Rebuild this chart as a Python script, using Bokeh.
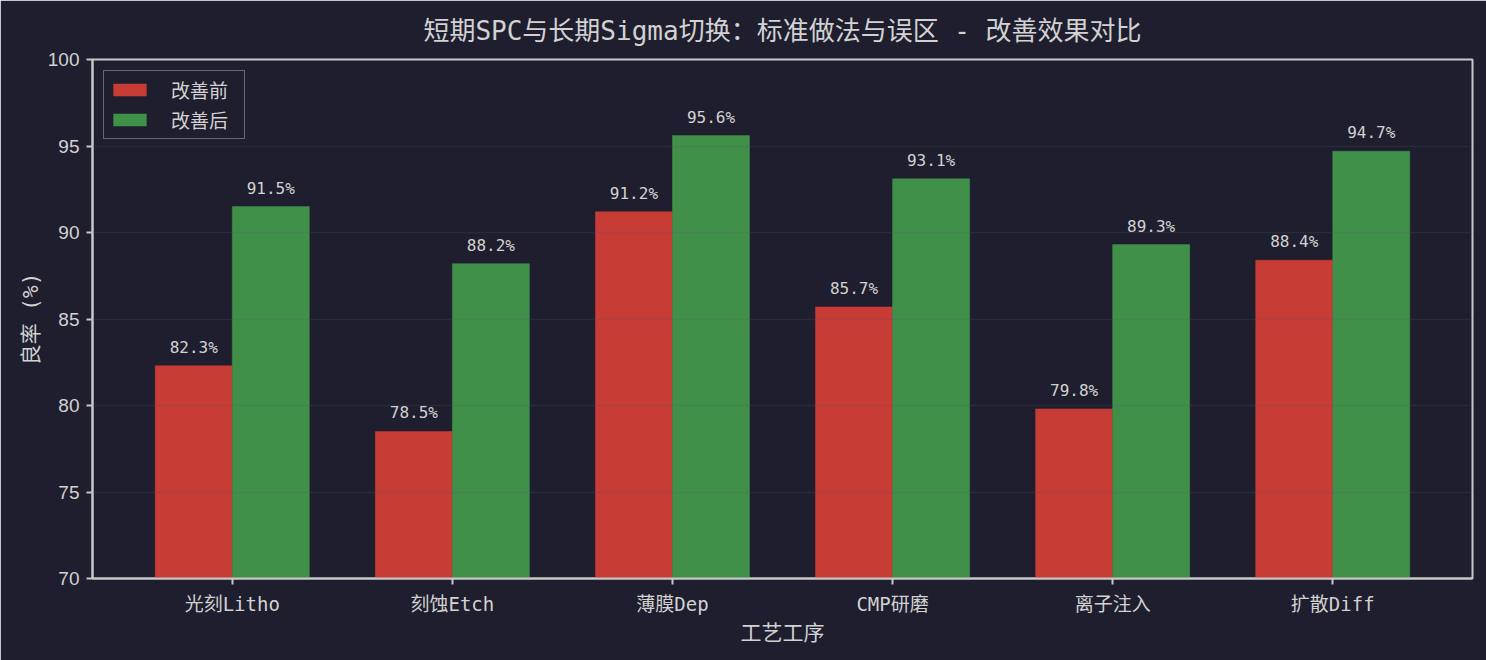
from bokeh.plotting import figure
from bokeh.models import ColumnDataSource, Range1d, FixedTicker, Legend, LegendItem
from bokeh.transform import dodge
from bokeh.embed import file_html
from bokeh.resources import INLINE

categories = ["光刻Litho", "刻蚀Etch", "薄膜Dep", "CMP研磨", "离子注入", "扩散Diff"]
before = [82.3, 78.5, 91.2, 85.7, 79.8, 88.4]
after = [91.5, 88.2, 95.6, 93.1, 89.3, 94.7]
y_ticks = [70, 75, 80, 85, 90, 95, 100]
series_names = ["改善前", "改善后"]
title_text = "短期SPC与长期Sigma切换：标准做法与误区 - 改善效果对比"
x_label = "工艺工序"
y_label = "良率 (%)"

BG = "#1e1e2e"
RED = "#c83c36"
GREEN = "#41904a"
TXT = "#d2d2d2"
SPINE = "#c8c8c8"
MIX = "'DejaVu Sans Mono', 'Noto Sans CJK SC'"

idx = list(range(len(categories)))
src = ColumnDataSource(dict(
    x=idx, before=before, after=after,
    before_lbl=[f"{v}%" for v in before],
    after_lbl=[f"{v}%" for v in after],
))

p = figure(width=1486, height=660, output_backend="svg", toolbar_location=None,
           x_range=Range1d(-0.635, 5.635), y_range=Range1d(70, 100),
           background_fill_color=BG, border_fill_color=BG,
           min_border_left=92, min_border_right=14, min_border_top=59, min_border_bottom=82)

r1 = p.vbar(x=dodge("x", -0.175), top="before", bottom=70, width=0.35, source=src,
            fill_color=RED, line_color=RED, line_width=0.5)
r2 = p.vbar(x=dodge("x", 0.175), top="after", bottom=70, width=0.35, source=src,
            fill_color=GREEN, line_color=GREEN, line_width=0.5)

for col, off in (("before", -0.175), ("after", 0.175)):
    p.text(x=dodge("x", off), y=col, text=col + "_lbl", source=src,
           text_align="center", text_baseline="bottom", y_offset=-9,
           text_color=TXT, text_font_size="16px", text_font={"value": "DejaVu Sans Mono"})

# title
p.title.text = title_text
p.title.align = "center"
p.title.vertical_align = "top"
p.title.text_font = MIX
p.title.text_font_size = "26px"
p.title.text_font_style = "normal"
p.title.text_color = TXT
p.title.standoff = 24

# axes
p.xaxis.ticker = FixedTicker(ticks=idx)
p.xaxis.major_label_overrides = {i: c for i, c in zip(idx, categories)}
p.yaxis.ticker = FixedTicker(ticks=y_ticks)
for ax in (p.xaxis, p.yaxis):
    ax.axis_line_color = SPINE
    ax.axis_line_width = 2
    ax.major_tick_line_color = SPINE
    ax.major_tick_line_width = 2
    ax.major_tick_out = 6
    ax.major_tick_in = 0
    ax.minor_tick_line_color = None
    ax.major_label_text_color = TXT
    ax.axis_label_text_color = TXT
    ax.axis_label_text_font_style = "normal"
    ax.axis_label_text_font = MIX
    ax.axis_label_text_font_size = "21px"
p.xaxis.major_label_text_font = MIX
p.xaxis.major_label_text_font_size = "19px"
p.xaxis.major_label_standoff = 8
p.xaxis.axis_label = x_label
p.xaxis.axis_label_standoff = 3
p.yaxis.major_label_text_font = "Liberation Sans"
p.yaxis.major_label_text_font_size = "19px"
p.yaxis.major_label_standoff = 7
p.yaxis.axis_label = y_label
p.yaxis.axis_label_standoff = 2

p.xgrid.grid_line_color = None
p.ygrid.ticker = FixedTicker(ticks=y_ticks)
p.ygrid.grid_line_color = "#555566"
p.ygrid.grid_line_alpha = 0.22
p.ygrid.grid_line_width = 1.5
p.ygrid.level = "overlay"

p.outline_line_color = SPINE
p.outline_line_width = 2

legend = Legend(items=[LegendItem(label=series_names[0], renderers=[r1]),
                       LegendItem(label=series_names[1], renderers=[r2])],
                location="top_left")
legend.background_fill_color = BG
legend.background_fill_alpha = 1.0
legend.border_line_color = "#b0b0b0"
legend.border_line_width = 1.5
legend.label_text_color = TXT
legend.label_text_font = MIX
legend.label_text_font_size = "19px"
legend.glyph_width = 41
legend.glyph_height = 15
legend.label_standoff = 21
legend.label_width = 68
legend.padding = 5
legend.spacing = 3
legend.margin = 11
p.add_layout(legend)

open("out.html", "w").write(file_html(p, INLINE))
